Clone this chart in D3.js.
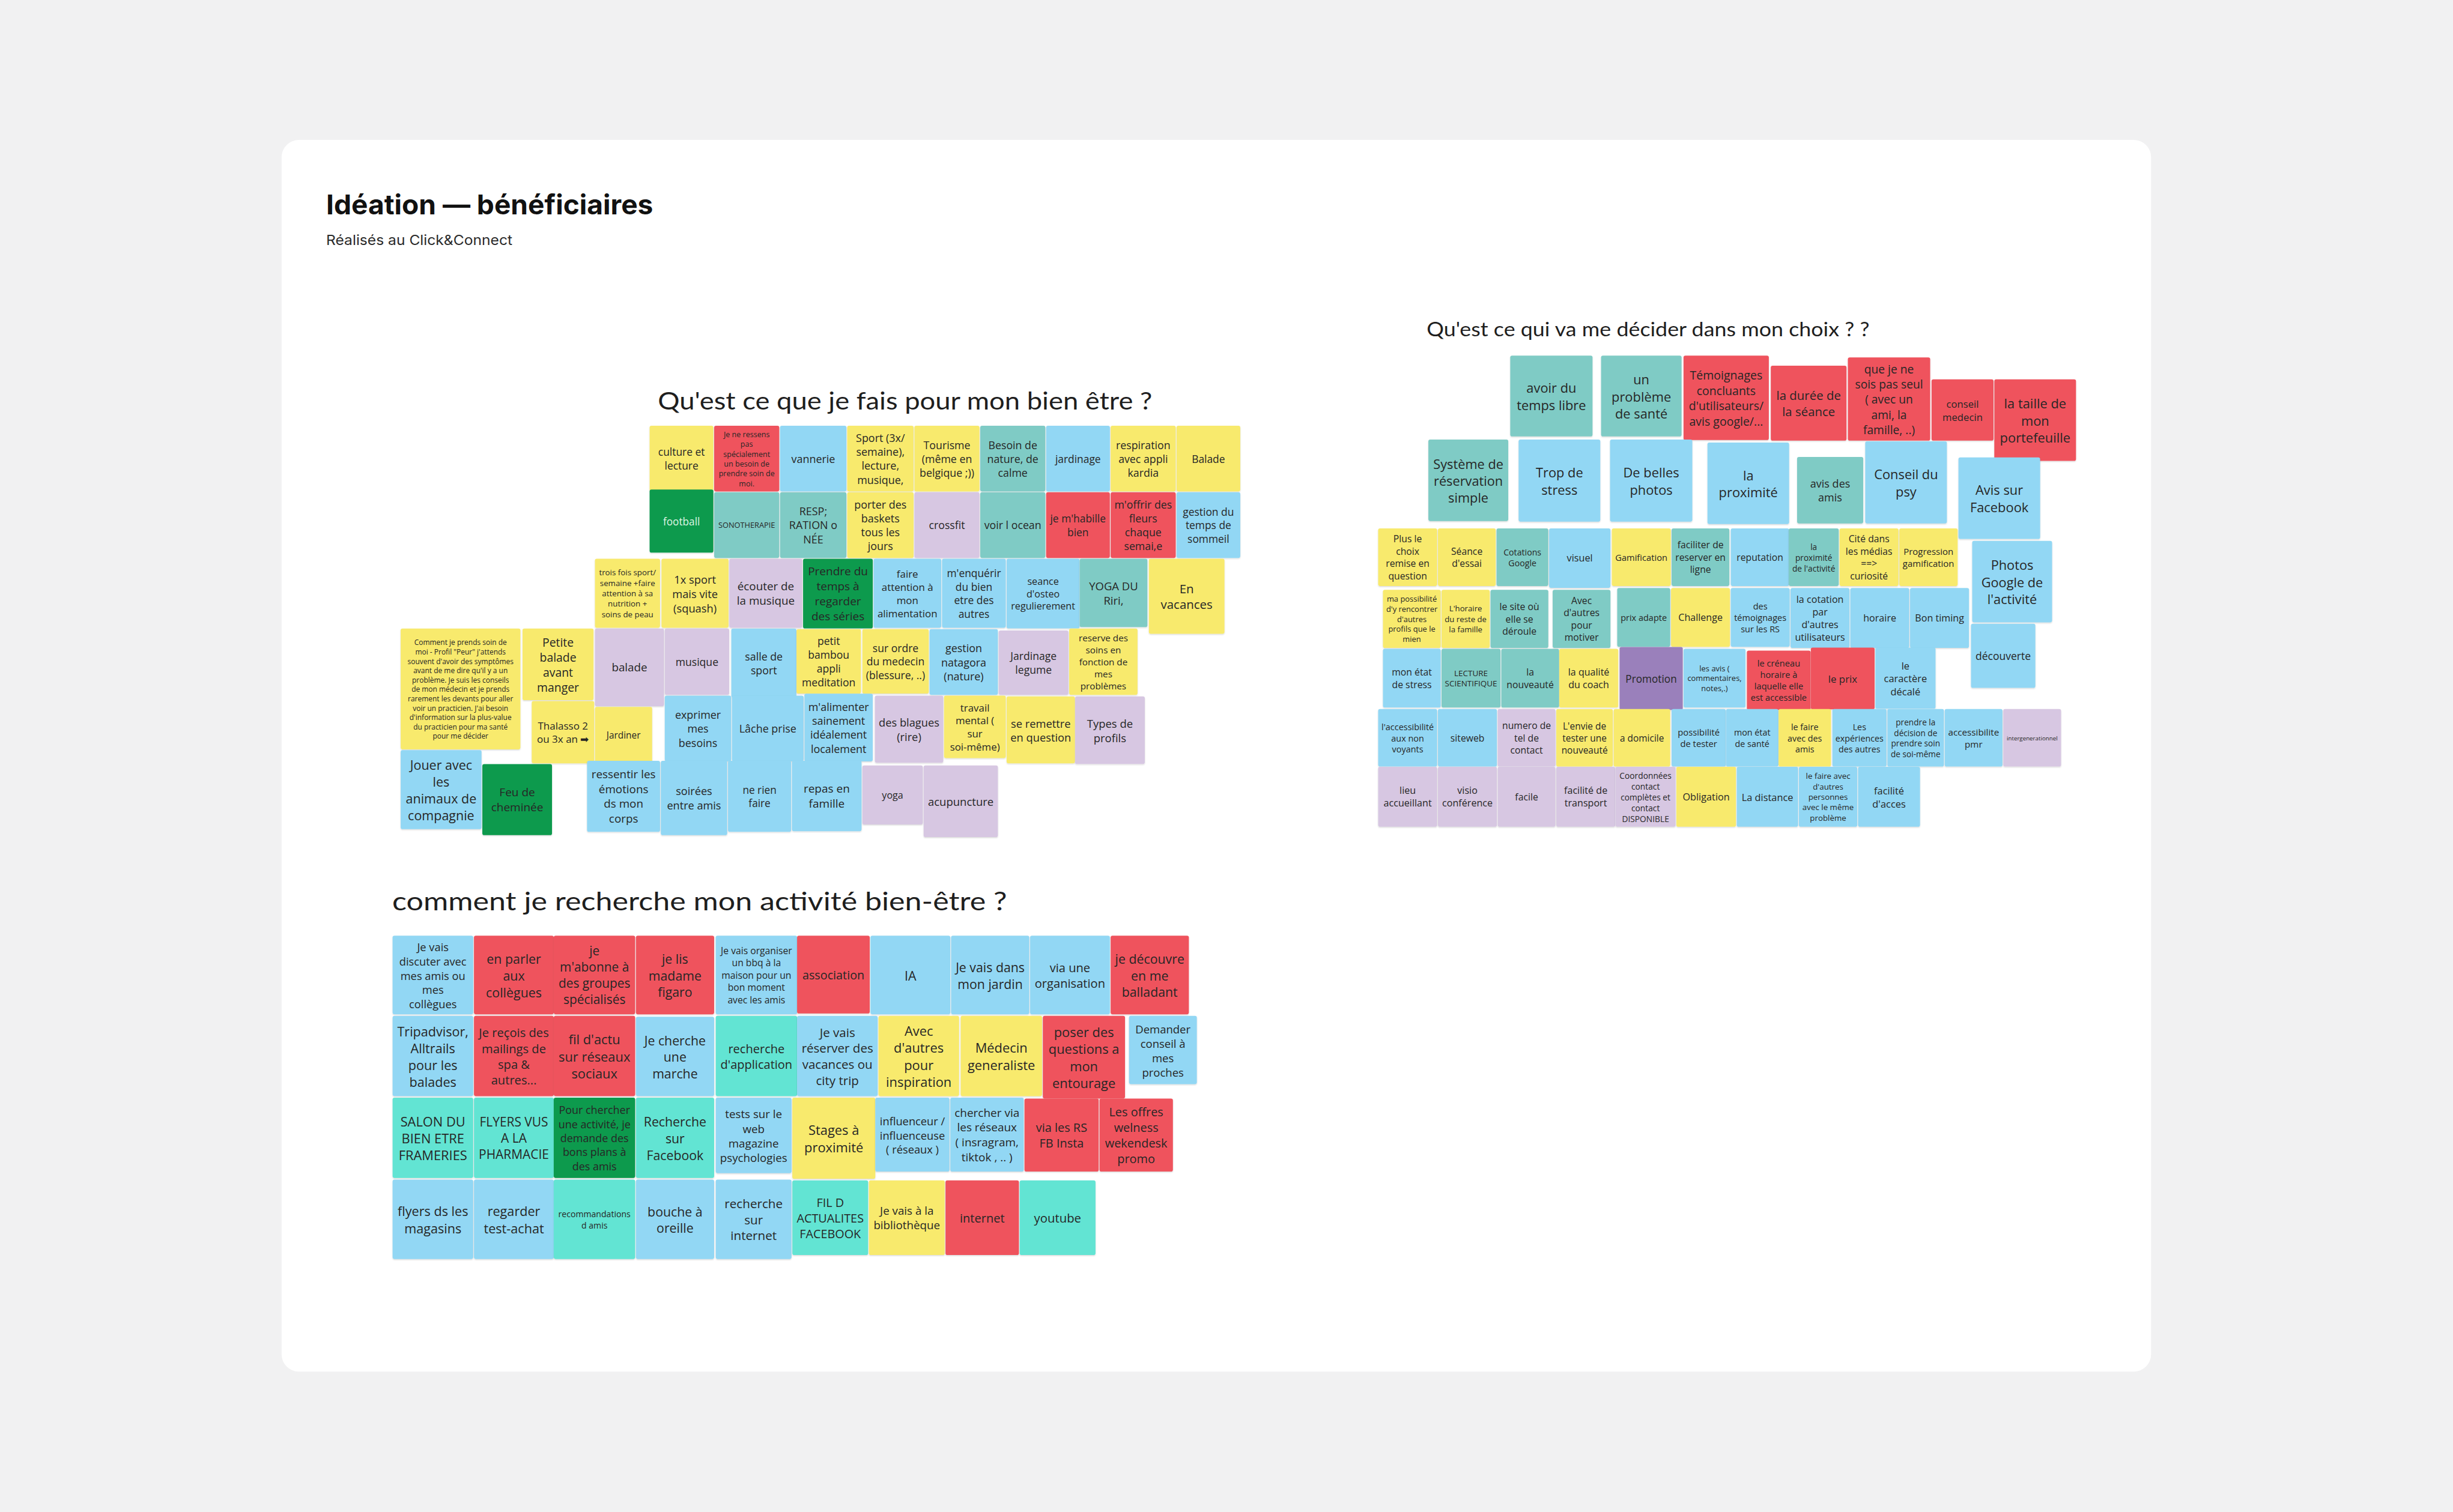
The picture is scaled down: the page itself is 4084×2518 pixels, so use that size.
<!DOCTYPE html>
<html>
<head>
<meta charset="utf-8">
<script src="https://cdn.jsdelivr.net/npm/d3@7"></script>
<style>
  html, body { margin: 0; padding: 0; background: #f1f1f2; }
  svg { display: block; }
</style>
</head>
<body>
<div id="board"></div>
<script>
// notes : [texte, couleur, colonne, ligne, largeur, hauteur] (en cases de la grille du groupe)
const bienEtreNotes = [
  ["culture et lecture", "jaune", 0, 0, 0.98, 1],
  ["Je ne ressens pas spécialement un besoin de prendre soin de moi.", "rouge", 0.98, 0, 1, 1],
  ["vannerie", "bleu", 1.98, 0, 1.02, 1],
  ["Sport (3x/ semaine), lecture, musique,", "jaune", 3, 0, 1.02, 1],
  ["Tourisme (même en belgique ;))", "jaune", 4.02, 0, 1, 1],
  ["Besoin de nature, de calme", "sarcelle", 5.02, 0, 1, 1],
  ["jardinage", "bleu", 6.02, 0, 0.98, 1],
  ["respiration avec appli kardia", "jaune", 7, 0, 1, 1],
  ["Balade", "jaune", 8, 0, 0.98, 1],
  ["football", "vert", 0, 0.96, 0.98, 0.96],
  ["SONOTHERAPIE", "sarcelle", 0.98, 1, 1, 1],
  ["RESP; RATION o NÉE", "sarcelle", 1.98, 1, 1.02, 1],
  ["porter des baskets tous les jours", "jaune", 3, 1, 1.02, 1],
  ["crossfit", "lilas", 4.02, 1, 1, 1],
  ["voir l ocean", "sarcelle", 5.02, 1, 1, 1],
  ["je m'habille bien", "rouge", 6.02, 1, 0.98, 1],
  ["m'offrir des fleurs chaque semai,e", "rouge", 7, 1, 1, 1],
  ["gestion du temps de sommeil", "bleu", 8, 1, 0.98, 1],
  ["trois fois sport/ semaine +faire attention à sa nutrition + soins de peau", "jaune", -0.83, 2, 1, 1.05],
  ["1x sport mais vite (squash)", "jaune", 0.18, 2, 1.03, 1.05],
  ["écouter de la musique", "lilas", 1.21, 2, 1.12, 1.05],
  ["Prendre du temps à regarder des séries", "vert", 2.33, 2, 1.07, 1.06],
  ["faire attention à mon alimentation", "bleu", 3.4, 2, 1.04, 1.05],
  ["m'enquérir du bien etre des autres", "bleu", 4.44, 2, 0.98, 1.05],
  ["seance d'osteo regulierement", "bleu", 5.42, 2, 1.12, 1.06],
  ["YOGA DU Riri,", "sarcelle", 6.53, 2, 1.04, 1.04],
  ["En vacances", "jaune", 7.58, 2, 1.16, 1.14],
  ["Comment je prends soin de moi - Profil \"Peur\" j'attends souvent d'avoir des symptômes avant de me dire qu'il y a un problème. Je suis les conseils de mon médecin et je prends rarement les devants pour aller voir un practicien. J'ai besoin d'information sur la plus-value du practicien pour ma santé pour me décider", "jaune", -3.78, 3.05, 1.83, 1.83],
  ["Petite balade avant manger", "jaune", -1.93, 3.05, 1.09, 1.09],
  ["balade", "lilas", -0.83, 3.05, 1.06, 1.18],
  ["musique", "lilas", 0.23, 3.05, 0.99, 1.01],
  ["salle de sport", "bleu", 1.24, 3.05, 1, 1.05],
  ["petit bambou appli meditation", "jaune", 2.23, 3.06, 0.99, 0.98],
  ["sur ordre du medecin (blessure, ..)", "jaune", 3.23, 3.06, 1.02, 0.98],
  ["gestion natagora (nature)", "bleu", 4.25, 3.06, 1.05, 1],
  ["Jardinage legume", "lilas", 5.3, 3.08, 1.07, 0.98],
  ["reserve des soins en fonction de mes problèmes", "jaune", 6.37, 3.05, 1.05, 1.01],
  ["Thalasso 2 ou 3x an ➡", "jaune", -1.79, 4.14, 0.96, 0.95],
  ["Jardiner", "jaune", -0.83, 4.23, 0.88, 0.86],
  ["exprimer mes besoins", "bleu", 0.23, 4.06, 1.02, 1],
  ["Lâche prise", "bleu", 1.25, 4.06, 1.1, 1],
  ["m'alimenter sainement idéalement localement", "bleu", 2.35, 4.03, 1.05, 1.03],
  ["des blagues (rire)", "lilas", 3.42, 4.06, 1.05, 1.02],
  ["travail mental ( sur soi-même)", "jaune", 4.47, 4.06, 0.95, 0.95],
  ["se remettre en question", "jaune", 5.42, 4.07, 1.05, 1.02],
  ["Types de profils", "lilas", 6.46, 4.07, 1.07, 1.03],
  ["Jouer avec les animaux de compagnie", "bleu", -3.78, 4.88, 1.24, 1.2],
  ["Feu de cheminée", "vert", -2.54, 5.09, 1.07, 1.08],
  ["ressentir les émotions ds mon corps", "bleu", -0.95, 5.04, 1.12, 1.08],
  ["soirées entre amis", "bleu", 0.17, 5.04, 1.02, 1.13],
  ["ne rien faire", "bleu", 1.19, 5.04, 0.97, 1.08],
  ["repas en famille", "bleu", 2.16, 5.04, 1.07, 1.07],
  ["yoga", "lilas", 3.23, 5.11, 0.93, 0.9],
  ["acupuncture", "lilas", 4.16, 5.11, 1.14, 1.09]
];

const choixNotes = [
  ["avoir du temps libre", "sarcelle", 2.21, -2.9, 1.39, 1.37],
  ["un problème de santé", "sarcelle", 3.73, -2.9, 1.36, 1.37],
  ["Témoignages concluants d'utilisateurs/ avis google/...", "rouge", 5.11, -2.9, 1.44, 1.43],
  ["la durée de la séance", "rouge", 6.57, -2.73, 1.28, 1.27],
  ["que je ne sois pas seul ( avec un ami, la famille, ..)", "rouge", 7.86, -2.87, 1.39, 1.41],
  ["conseil medecin", "rouge", 9.26, -2.5, 1.05, 1.04],
  ["la taille de mon portefeuille", "rouge", 10.31, -2.5, 1.38, 1.38],
  ["Système de réservation simple", "sarcelle", 0.84, -1.49, 1.35, 1.38],
  ["Trop de stress", "bleu", 2.35, -1.49, 1.38, 1.39],
  ["De belles photos", "bleu", 3.88, -1.49, 1.39, 1.39],
  ["la proximité", "bleu", 5.51, -1.44, 1.38, 1.38],
  ["avis des amis", "sarcelle", 7.01, -1.2, 1.12, 1.13],
  ["Conseil du psy", "bleu", 8.15, -1.46, 1.38, 1.39],
  ["Avis sur Facebook", "bleu", 9.71, -1.19, 1.38, 1.38],
  ["Plus le choix remise en question", "jaune", 0, 0, 1, 0.98],
  ["Séance d'essai", "jaune", 1, 0, 0.98, 0.98],
  ["Cotations Google", "sarcelle", 1.98, 0, 0.88, 0.98],
  ["visuel", "bleu", 2.86, 0, 1.04, 1.01],
  ["Gamification", "jaune", 3.91, 0, 1, 0.98],
  ["faciliter de reserver en ligne", "sarcelle", 4.91, 0, 0.98, 0.98],
  ["reputation", "bleu", 5.9, 0, 0.99, 0.98],
  ["la proximité de l'activité", "sarcelle", 6.87, 0, 0.85, 0.98],
  ["Cité dans les médias ==> curiosité", "jaune", 7.72, 0, 1, 0.98],
  ["Progression gamification", "jaune", 8.72, 0, 0.99, 0.98],
  ["Photos Google de l'activité", "bleu", 9.94, 0.21, 1.35, 1.38],
  ["ma possibilité d'y rencontrer d'autres profils que le mien", "jaune", 0.08, 1.03, 0.98, 0.99],
  ["L'horaire du reste de la famille", "jaune", 1.06, 1.03, 0.82, 0.99],
  ["le site où elle se déroule", "sarcelle", 1.88, 1.03, 0.98, 0.99],
  ["Avec d'autres pour motiver", "sarcelle", 2.92, 1.03, 0.98, 0.99],
  ["prix adapte", "sarcelle", 4, 1, 0.9, 1],
  ["Challenge", "jaune", 4.9, 1, 1, 1],
  ["des témoignages sur les RS", "bleu", 5.9, 1, 1, 1],
  ["la cotation par d'autres utilisateurs", "bleu", 6.9, 1, 1, 1.02],
  ["horaire", "bleu", 7.9, 1, 1, 1.02],
  ["Bon timing", "bleu", 8.9, 1, 1, 1.02],
  ["découverte", "bleu", 9.92, 1.6, 1.09, 1.09],
  ["mon état de stress", "bleu", 0.08, 2.02, 0.98, 1],
  ["LECTURE SCIENTIFIQUE", "sarcelle", 1.06, 2.02, 1, 1],
  ["la nouveauté", "sarcelle", 2.06, 2.02, 0.98, 1],
  ["la qualité du coach", "jaune", 3.03, 2.02, 1, 1],
  ["Promotion", "violet", 4.04, 1.99, 1.07, 1.07],
  ["les avis ( commentaires, notes,.)", "bleu", 5.11, 2.02, 1.05, 1],
  ["le créneau horaire à laquelle elle est accessible", "rouge", 6.17, 2.05, 1.08, 1.01],
  ["le prix", "rouge", 7.24, 2, 1.08, 1.05],
  ["le caractère décalé", "bleu", 8.32, 2, 1.02, 1.04],
  ["l'accessibilité aux non voyants", "bleu", 0, 3.03, 1, 0.98],
  ["siteweb", "bleu", 1, 3.03, 1, 0.98],
  ["numero de tel de contact", "lilas", 2, 3.03, 0.98, 0.98],
  ["L'envie de tester une nouveauté", "jaune", 2.98, 3.03, 0.96, 0.98],
  ["a domicile", "jaune", 3.94, 3.03, 0.96, 0.98],
  ["possibilité de tester", "bleu", 4.91, 3.03, 0.92, 0.98],
  ["mon état de santé", "bleu", 5.82, 3.03, 0.89, 0.98],
  ["le faire avec des amis", "jaune", 6.7, 3.03, 0.89, 0.98],
  ["Les expériences des autres", "bleu", 7.6, 3.03, 0.92, 0.98],
  ["prendre la décision de prendre soin de soi-même", "bleu", 8.52, 3.03, 0.96, 0.98],
  ["accessibilite pmr", "bleu", 9.48, 3.03, 0.98, 0.98],
  ["intergenerationnel", "lilas", 10.46, 3.03, 0.98, 0.98],
  ["lieu accueillant", "lilas", 0, 4, 1, 1.02],
  ["visio conférence", "lilas", 1, 4, 1, 1.02],
  ["facile", "lilas", 2, 4, 0.98, 1.02],
  ["facilité de transport", "lilas", 2.98, 4, 1, 1.02],
  ["Coordonnées contact complètes et contact DISPONIBLE", "lilas", 3.97, 4, 1.02, 1.02],
  ["Obligation", "jaune", 4.99, 4, 1.01, 1.02],
  ["La distance", "bleu", 6, 4, 1.04, 1.02],
  ["le faire avec d'autres personnes avec le même problème", "bleu", 7.04, 4, 0.99, 1.02],
  ["facilité d'acces", "bleu", 8.03, 4, 1.05, 1.02]
];

const rechercheNotes = [
  ["Je vais discuter avec mes amis ou mes collègues", "bleu", 0, 0, 1.02, 0.99],
  ["en parler aux collègues", "rouge", 1.02, 0, 1.01, 0.99],
  ["je m'abonne à des groupes spécialisés", "rouge", 2.02, 0, 1.03, 0.99],
  ["je lis madame figaro", "rouge", 3.05, 0, 0.99, 0.99],
  ["Je vais organiser un bbq à la maison pour un bon moment avec les amis", "bleu", 4.05, 0, 1.03, 0.99],
  ["association", "rouge", 5.07, 0, 0.92, 0.98],
  ["IA", "bleu", 5.99, 0, 1.01, 0.99],
  ["Je vais dans mon jardin", "bleu", 7, 0, 0.99, 0.99],
  ["via une organisation", "bleu", 7.99, 0, 1.01, 0.99],
  ["je découvre en me balladant", "rouge", 9, 0, 0.99, 0.99],
  ["Tripadvisor, Alltrails pour les balades", "bleu", 0, 1, 1.02, 1.01],
  ["Je reçois des mailings de spa & autres...", "rouge", 1.02, 1, 1.01, 1.01],
  ["fil d'actu sur réseaux sociaux", "rouge", 2.02, 1, 1.03, 1.01],
  ["Je cherche une marche", "bleu", 3.05, 1.01, 0.99, 1],
  ["recherche d'application", "turquoise", 4.05, 1, 1.03, 1.01],
  ["Je vais réserver des vacances ou city trip", "bleu", 5.07, 1, 1.02, 1.01],
  ["Avec d'autres pour inspiration", "jaune", 6.09, 1, 1.02, 1.01],
  ["Médecin generaliste", "jaune", 7.12, 1, 1.03, 1.01],
  ["poser des questions a mon entourage", "rouge", 8.15, 1, 1.04, 1.04],
  ["Demander conseil à mes proches", "bleu", 9.23, 1, 0.86, 0.86],
  ["SALON DU BIEN ETRE FRAMERIES", "turquoise", 0, 2.02, 1.02, 1.01],
  ["FLYERS VUS A LA PHARMACIE", "turquoise", 1.02, 2.02, 1.01, 1.01],
  ["Pour chercher une activité, je demande des bons plans à des amis", "vert", 2.02, 2.02, 1.03, 1.01],
  ["Recherche sur Facebook", "turquoise", 3.05, 2.02, 0.99, 1.01],
  ["tests sur le web magazine psychologies", "bleu", 4.05, 2.02, 0.96, 0.95],
  ["Stages à proximité", "jaune", 5.01, 2.02, 1.05, 1.02],
  ["influenceur / influenceuse ( réseaux )", "bleu", 6.05, 2.02, 0.94, 0.93],
  ["chercher via les réseaux ( insragram, tiktok , .. )", "bleu", 6.99, 2.02, 0.93, 0.93],
  ["via les RS FB Insta", "rouge", 7.92, 2.03, 0.94, 0.92],
  ["Les offres welness wekendesk promo", "rouge", 8.86, 2.03, 0.93, 0.92],
  ["flyers ds les magasins", "bleu", 0, 3.04, 1.02, 1],
  ["regarder test-achat", "bleu", 1.02, 3.04, 1.01, 1],
  ["recommandations d amis", "turquoise", 2.02, 3.04, 1.03, 1],
  ["bouche à oreille", "bleu", 3.05, 3.04, 0.99, 1],
  ["recherche sur internet", "bleu", 4.05, 3.04, 0.96, 1],
  ["FIL D ACTUALITES FACEBOOK", "turquoise", 5.01, 3.05, 0.96, 0.94],
  ["Je vais à la bibliothèque", "jaune", 5.97, 3.05, 0.96, 0.94],
  ["internet", "rouge", 6.93, 3.05, 0.93, 0.94],
  ["youtube", "turquoise", 7.86, 3.05, 0.96, 0.94]
];

const couleurs = ["jaune", "rouge", "bleu", "sarcelle", "vert", "lilas", "turquoise", "violet"];
const teintes = ["#f8ea6d", "#ef525d", "#92d7f4", "#7fcbc5", "#0b9a4e", "#d7c7e2", "#62e4d3", "#9a80bb"];

const titre = "Idéation — bénéficiaires";
const sousTitre = "Réalisés au Click&Connect";
const questions = [
  "Qu'est ce que je fais pour mon bien être ?",
  "Qu'est ce qui va me décider dans mon choix ? ?",
  "comment je recherche mon activité bien-être ?"
];

const W = 1568, H = 2518 * 1568 / 4084;
const svg = d3.select("#board").append("svg")
    .attr("width", 4084)
    .attr("height", 2518)
    .attr("viewBox", `0 0 ${W} ${H}`);

svg.append("rect").attr("width", W).attr("height", H).attr("fill", "#f1f1f2");
svg.append("rect")
    .attr("x", 180).attr("y", 89.5)
    .attr("width", 1195).attr("height", 787.5)
    .attr("rx", 11)
    .attr("fill", "#ffffff");

const defs = svg.append("defs");
defs.append("filter").attr("id", "ombre")
    .attr("x", "-10%").attr("y", "-10%").attr("width", "120%").attr("height", "130%")
  .append("feDropShadow")
    .attr("dx", 0).attr("dy", 0.5)
    .attr("stdDeviation", 0.5)
    .attr("flood-color", "#000")
    .attr("flood-opacity", 0.16);

const color = d3.scaleOrdinal().domain(couleurs).range(teintes);

const police = "'Open Sans', Lato, sans-serif";
const ctx = document.createElement("canvas").getContext("2d");
ctx.font = "100px 'Open Sans'";
const mesure = (s, fs) => ctx.measureText(s).width * fs / 100;

function wrap(words, fs, maxW) {
  const lines = [];
  let cur = "";
  for (const w of words) {
    if (mesure(w, fs) > maxW) return null;
    const t = cur ? cur + " " + w : w;
    if (mesure(t, fs) <= maxW) cur = t;
    else { lines.push(cur); cur = w; }
  }
  if (cur) lines.push(cur);
  return lines;
}

function fit(text, w, h) {
  const words = text.split(/\s+/).filter(Boolean);
  const maxW = w * 0.88, maxH = h * 0.9;
  let fs = Math.min(8.4, Math.min(w, h) * 0.162);
  for (; fs > 1.2; fs -= 0.1) {
    const lines = wrap(words, fs, maxW);
    if (lines && lines.length * fs * 1.3 <= maxH) return { fs, lines };
  }
  return { fs: 1.2, lines: wrap(words, 1.2, 1e9) };
}

function groupe(notes, xr, yr) {
  const x = d3.scaleLinear().domain([0, 1]).range(xr);
  const y = d3.scaleLinear().domain([0, 1]).range(yr);
  const g = svg.append("g");
  const n = g.selectAll("g.note")
    .data(notes.map(([t, k, c, r, w, h]) => ({
      t, k,
      x: x(c), y: y(r),
      w: x(c + w) - x(c), h: y(r + h) - y(r)
    })))
    .join("g").attr("class", "note");

  n.append("rect")
      .attr("x", d => d.x + 0.25).attr("y", d => d.y + 0.25)
      .attr("width", d => d.w - 0.5).attr("height", d => d.h - 0.5)
      .attr("rx", 1.2)
      .attr("fill", d => color(d.k))
      .attr("filter", "url(#ombre)");

  n.each(function (d) {
    const f = fit(d.t, d.w, d.h);
    const lh = f.fs * 1.3;
    const y0 = d.y + d.h / 2 - (f.lines.length - 1) * lh / 2;
    const txt = d3.select(this).append("text")
        .attr("text-anchor", "middle")
        .attr("dominant-baseline", "central")
        .attr("font-family", police)
        .attr("font-size", f.fs)
        .attr("fill", d.t === "football" ? "#dff5e4" : "#262626");
    txt.selectAll("tspan").data(f.lines).join("tspan")
        .attr("x", d.x + d.w / 2)
        .attr("y", (l, i) => y0 + i * lh)
        .text(l => l);
  });
}

groupe(bienEtreNotes, [415, 457.1], [272, 314.5]);
groupe(choixNotes, [880.7, 918.9], [337.6, 375.7]);
groupe(rechercheNotes, [250.7, 301.7], [598, 649.3]);

// titres
svg.append("text")
    .attr("x", 208.5).attr("y", 137)
    .attr("font-family", "Inter, 'Liberation Sans', sans-serif")
    .attr("font-weight", 700)
    .attr("font-size", 17.5)
    .attr("textLength", 209).attr("lengthAdjust", "spacingAndGlyphs")
    .attr("fill", "#111")
    .text(titre);

svg.append("text")
    .attr("x", 208.5).attr("y", 156.5)
    .attr("font-family", "Inter, 'Liberation Sans', sans-serif")
    .attr("font-size", 9)
    .attr("textLength", 119).attr("lengthAdjust", "spacingAndGlyphs")
    .attr("fill", "#2a2a2a")
    .text(sousTitre);

const posTitres = [
  { x: 420.5, y: 262, fs: 15.5, len: 316 },
  { x: 912, y: 215, fs: 12.5, len: 283 },
  { x: 250.7, y: 582, fs: 16, len: 393 }
];
svg.selectAll("text.question")
  .data(questions)
  .join("text")
    .attr("class", "question")
    .attr("x", (d, i) => posTitres[i].x)
    .attr("y", (d, i) => posTitres[i].y)
    .attr("font-family", "Lato, sans-serif")
    .attr("font-size", (d, i) => posTitres[i].fs)
    .attr("textLength", (d, i) => posTitres[i].len)
    .attr("lengthAdjust", "spacingAndGlyphs")
    .attr("fill", "#1e1e1e")
    .text(d => d);
</script>
</body>
</html>
